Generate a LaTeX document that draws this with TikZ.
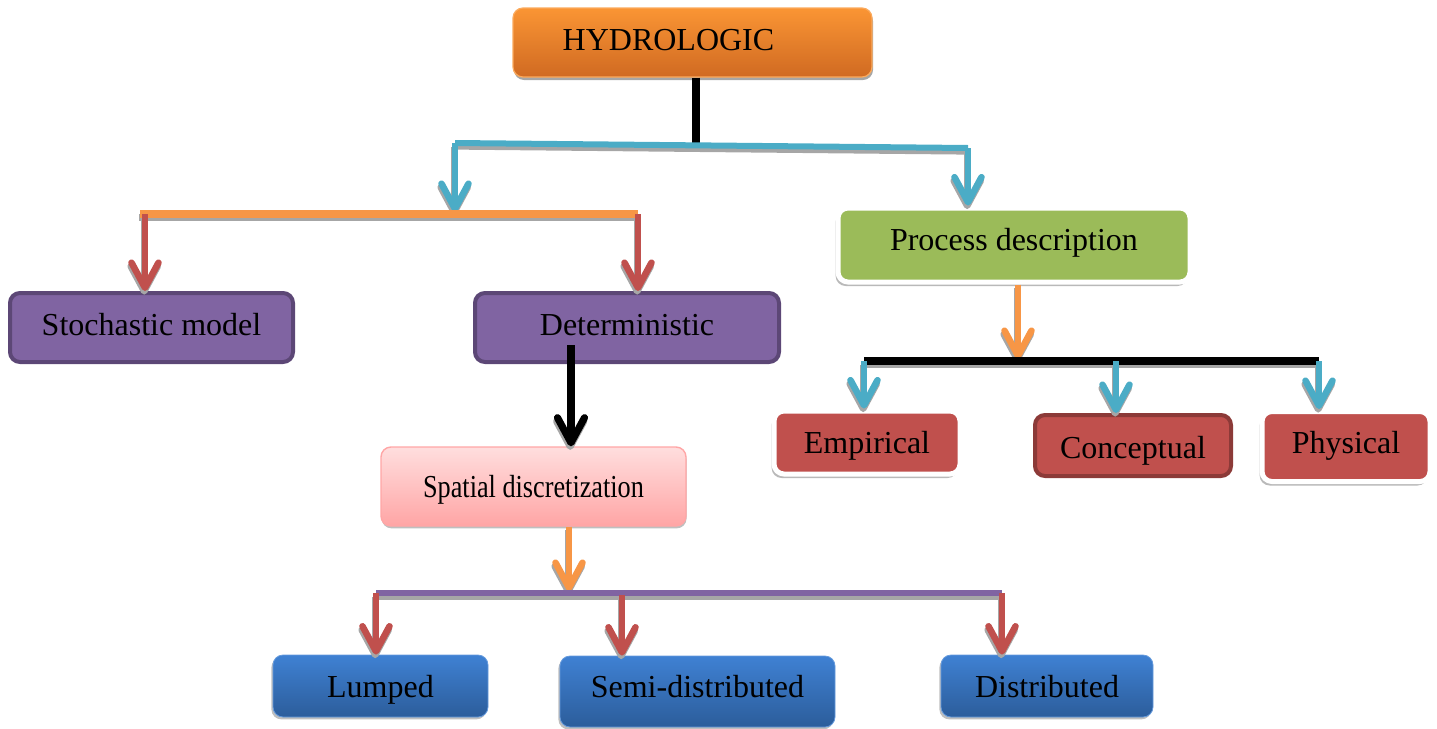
\documentclass[tikz,border=0pt]{standalone}
\usepackage{fontspec}
\setmainfont{Liberation Serif}
\usepackage{graphicx}
\usetikzlibrary{arrows.meta,shadows}
\definecolor{cblue}{HTML}{4BACC6}
\definecolor{corange}{HTML}{F79646}
\definecolor{cred}{HTML}{C0504D}
\definecolor{cpurple}{HTML}{8064A2}
\definecolor{cpurpledark}{HTML}{5C4776}
\definecolor{cgreen}{HTML}{9BBB59}
\definecolor{credDark}{HTML}{8C3A38}
\definecolor{hydtop}{HTML}{FA9534}
\definecolor{hydbot}{HTML}{D06A22}
\definecolor{bluetop}{HTML}{3F81D3}
\definecolor{bluebot}{HTML}{2C5D9B}
\definecolor{pinktop}{HTML}{FFDEDE}
\definecolor{pinkbot}{HTML}{FFA5A5}
\definecolor{shadowgray}{HTML}{A6A6A6}
\tikzset{
  base/.style={rounded corners=5pt, inner sep=0pt, align=center, text=black,
    text height=13pt, text depth=2.4pt,
    font=\fontsize{16}{19}\selectfont},
  hydbox/.style={base, top color=hydtop, bottom color=hydbot,
    draw=hydtop!80!white, line width=0.6pt,
    drop shadow={shadow xshift=0.5pt, shadow yshift=-1.5pt, fill=shadowgray, opacity=1}},
  purplebox/.style={base, fill=cpurple, draw=cpurpledark, line width=2pt},
  pinkbox/.style={base, top color=pinktop, bottom color=pinkbot, draw=red!35, line width=0.7pt,
    drop shadow={shadow xshift=0.3pt, shadow yshift=-1.2pt, fill=gray!50, opacity=1}},
  bluebox/.style={base, top color=bluetop, bottom color=bluebot,
    draw=bluetop!80!white, line width=0.4pt,
    drop shadow={shadow xshift=-0.8pt, shadow yshift=-1.2pt, fill=gray!50, opacity=1}},
  whitebox/.style={base, draw=white, line width=2.5pt,
    drop shadow={shadow xshift=-1.2pt, shadow yshift=-2pt, fill=gray!55, opacity=1}},
  bar/.style={line width=#1},
  arr/.style={line width=3.3pt, -{Straight Barb[length=12.5pt, width=13.5pt, round]}},
}
\newcommand\drawconns[1]{%
  \draw[bar=3.6pt, black, #1] (hyd.south -| 696,0) -- (696,145);
  \draw[bar=3pt, cblue, #1] (bL) -- (bR);
  \draw[arr, cblue, #1] (bL) -- (oM);
  \draw[arr, cblue, #1] (bR) -- (bR |- proc.north);
  \draw[bar=3.6pt, corange, #1] (oL) -- (oR);
  \draw[arr, cred, #1] (oL -| 145,0) -- (145,0 |- stoch.north);
  \draw[arr, cred, #1] (oR) -- (oR |- det.north);
  \draw[arr, black, line width=3.6pt, #1] (dS) -- (dS |- spat.north);
  \draw[arr, corange, #1] (spat.south -| pM) -- (pM);
  \draw[bar=3.3pt, cpurple, #1] (pL) -- (pR);
  \draw[arr, cred, #1] (pL) -- (pL |- lump.north);
  \draw[arr, cred, #1] (622,595) -- (622,0 |- semi.north);
  \draw[arr, cred, #1] (pR) -- (pR |- dist.north);
  \draw[arr, corange, #1] (proc.south -| kM) -- (kM);
  \draw[bar=3.8pt, black, #1] (kL) -- (kR);
  \draw[arr, cblue, #1] (kL) -- (kL |- emp.north);
  \draw[arr, cblue, #1] (1116,361) -- (1116,0 |- conc.north);
  \draw[arr, cblue, #1] (kR) -- (kR |- phys.north);
}
\begin{document}
\begin{tikzpicture}[x=0.5pt, y=-0.5pt]
\useasboundingbox (0,0) rectangle (1437,729);
% nodes
\node[hydbox, minimum width=179.5pt, minimum height=34.5pt] (hyd) at (692.5,42.5) {\raisebox{1.2pt}{HYDROLOGIC}\hspace{24pt}};
\node[purplebox, minimum width=141.5pt, minimum height=34.5pt] (stoch) at (151.5,327.5) {\raisebox{1.2pt}{Stochastic model}};
\node[purplebox, minimum width=152pt, minimum height=34.5pt] (det) at (627,327.5) {\raisebox{1.2pt}{Deterministic}};
\node[pinkbox, minimum width=152.5pt, minimum height=39.5pt] (spat) at (533.5,486.5) {\scalebox{0.82}[1]{Spatial discretization}};
\node[bluebox, minimum width=107.5pt, minimum height=31pt] (lump) at (380.5,686) {\raisebox{-0.5pt}{Lumped}};
\node[bluebox, minimum width=137.5pt, minimum height=35.5pt] (semi) at (697.5,691.5) {\raisebox{2.2pt}{Semi-distributed}};
\node[bluebox, minimum width=106pt, minimum height=31pt] (dist) at (1047,686) {\raisebox{-0.5pt}{Distributed}};
\node[whitebox, fill=cgreen, minimum width=176pt, minimum height=37pt] (proc) at (1014,245) {\raisebox{2.5pt}{Process description}};
\node[whitebox, fill=cred, minimum width=93pt, minimum height=31.5pt] (emp) at (867,442.5) {Empirical};
\node[base, fill=cred, draw=credDark, line width=2pt, minimum width=98pt, minimum height=30.5pt] (conc) at (1133,445.5) {\raisebox{-1.2pt}{Conceptual}};
\node[whitebox, fill=cred, minimum width=84pt, minimum height=35pt] (phys) at (1346,446.5) {\raisebox{1.7pt}{Physical}};
% junction coordinates
\coordinate (bL) at (455,143);
\coordinate (bR) at (968,148);
\coordinate (oL) at (140,214);
\coordinate (oR) at (638,214);
\coordinate (oM) at (455,212);
\coordinate (dS) at (571,345);
\coordinate (pL) at (376,593);
\coordinate (pR) at (1002,593);
\coordinate (pM) at (569,591);
\coordinate (kL) at (864,361);
\coordinate (kR) at (1319,361);
\coordinate (kM) at (1018,359);
% connector shadows, then connectors
\begin{scope}[transform canvas={xshift=-0.4pt, yshift=-1.8pt}]
  \drawconns{draw=shadowgray}
\end{scope}
\drawconns{}
\end{tikzpicture}
\end{document}
